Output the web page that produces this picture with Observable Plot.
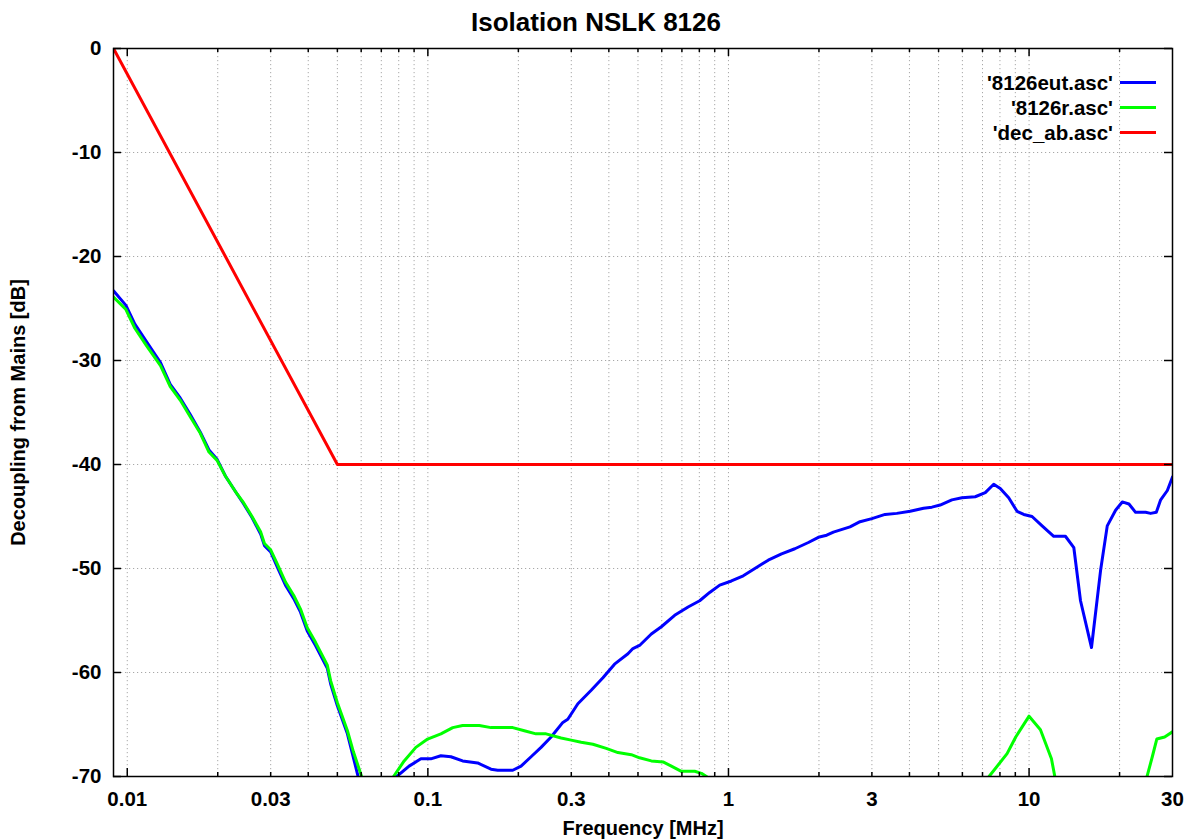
<!DOCTYPE html>
<html><head><meta charset="utf-8">
<script src="https://cdn.jsdelivr.net/npm/d3@7"></script>
<script src="https://cdn.jsdelivr.net/npm/@observablehq/plot@0.6"></script>
<style>
body{margin:0;background:#fff;font-family:"Liberation Sans",Arial,Helvetica,sans-serif;}
#wrap{position:relative;width:1192px;height:840px;overflow:hidden;background:#fff;}
#title{position:absolute;left:0;top:0;width:1192px;height:44px;line-height:44px;text-align:center;font-weight:bold;font-size:26px;color:#000;z-index:2;}
#chart{position:absolute;left:0;top:20px;z-index:1;}
#legend{position:absolute;right:36px;top:70px;font-weight:bold;font-size:20.5px;color:#000;z-index:3;}
#legend .row{display:flex;align-items:center;justify-content:flex-end;height:25px;}
#legend .sw{display:inline-block;width:36px;height:3px;margin-left:7px;}
</style></head>
<body>
<div id="wrap">
  <div id="chart"></div>
  <div id="title"></div>
  <div id="legend"></div>
</div>
<script>
// ---- data ----
const chartTitle = "Isolation NSLK 8126";
const xLabel = "Frequency [MHz]";
const yLabel = "Decoupling from Mains [dB]";
const seriesNames = ["'8126eut.asc'", "'8126r.asc'", "'dec_ab.asc'"];
const seriesColors = ["#0000ff", "#00ff00", "#ff0000"];

const xTickValues = [0.01, 0.03, 0.1, 0.3, 1, 3, 10, 30];
const xTickLabels = ["0.01", "0.03", "0.1", "0.3", "1", "3", "10", "30"];
const yTickValues = [-70, -60, -50, -40, -30, -20, -10, 0];
const yTickLabels = ["-70", "-60", "-50", "-40", "-30", "-20", "-10", "0"];

// '8126eut.asc' (null = off-scale gap)
const eutFreq = [0.009,0.0099,0.0106,0.0116,0.0129,0.0139,0.0150,0.0162,0.0175,0.0187,0.0199,0.0212,0.0229,0.0244,0.026,0.0278,0.0286,0.030,0.0316,0.0336,0.0358,0.0377,0.0397,0.0423,0.0463,0.0475,0.050,0.054,0.0561,0.0586,
  null,
  0.0788,0.0866,0.0948,0.1023,0.1105,0.1193,0.1305,0.1464,0.1622,0.1708,0.1916,0.2042,0.2205,0.238,0.257,0.2812,0.2921,0.3155,0.3494,0.3823,0.4178,0.463,0.481,0.506,0.5538,0.598,0.6622,0.734,0.802,0.866,0.9354,1.023,1.12,1.224,1.356,1.502,1.663,1.844,1.991,2.122,2.234,2.537,2.74,3.0,3.319,3.63,4.022,4.457,4.75,5.06,5.537,5.98,6.62,7.15,7.627,8.02,8.555,9.12,9.6,10.23,11.05,12.08,13.21,14.09,14.83,16.13,17.29,18.2,19.4,20.42,21.49,22.61,24.42,25.37,26.5,27.4,28.84,30];
const eutDb = [-23.3,-24.7,-26.5,-28.2,-30.2,-32.3,-33.6,-35.2,-36.9,-38.6,-39.5,-41.1,-42.6,-43.8,-45.1,-46.7,-47.8,-48.4,-49.9,-51.6,-52.9,-54.2,-56.0,-57.4,-59.6,-61.1,-63.2,-65.9,-67.8,-70,
  null,
  -70,-69.0,-68.3,-68.3,-68.0,-68.1,-68.5,-68.7,-69.3,-69.4,-69.4,-69.0,-68.1,-67.2,-66.2,-64.8,-64.5,-63.0,-61.7,-60.5,-59.2,-58.2,-57.7,-57.4,-56.3,-55.6,-54.5,-53.7,-53.1,-52.3,-51.6,-51.2,-50.7,-50.0,-49.2,-48.6,-48.1,-47.5,-47.0,-46.8,-46.5,-46.0,-45.5,-45.2,-44.8,-44.7,-44.5,-44.2,-44.1,-43.9,-43.4,-43.2,-43.1,-42.7,-41.9,-42.3,-43.2,-44.5,-44.8,-45.0,-45.9,-46.9,-46.9,-48.0,-53.1,-57.6,-50.2,-45.9,-44.4,-43.6,-43.8,-44.6,-44.6,-44.7,-44.6,-43.4,-42.5,-41.2];

// '8126r.asc'
const refFreq = [0.009,0.0099,0.0106,0.0116,0.0129,0.0139,0.0150,0.0162,0.0175,0.0187,0.0199,0.0212,0.0229,0.0244,0.026,0.0278,0.0286,0.030,0.0316,0.0336,0.0358,0.0377,0.0397,0.0423,0.0463,0.0475,0.050,0.054,0.0565,0.0602,
  null,
  0.0769,0.0834,0.0912,0.0998,0.1105,0.121,0.1305,0.1483,0.1622,0.1916,0.2094,0.229,0.2473,0.2775,0.2997,0.3236,0.354,0.392,0.4287,0.475,0.506,0.5538,0.6058,0.6457,0.697,0.772,0.813,0.845,
  null,
  7.36,8.45,9.03,10.0,10.91,11.87,12.18,
  null,
  24.68,25.7,26.6,28.25,30];
const refDb = [-23.9,-25.1,-26.9,-28.6,-30.5,-32.5,-33.8,-35.4,-37.0,-38.8,-39.6,-41.1,-42.6,-43.7,-45.0,-46.5,-47.6,-48.2,-49.6,-51.3,-52.6,-53.9,-55.7,-57.1,-59.3,-60.8,-62.9,-65.6,-67.6,-70,
  null,
  -70,-68.5,-67.2,-66.4,-65.9,-65.3,-65.1,-65.1,-65.3,-65.3,-65.6,-65.9,-65.9,-66.3,-66.5,-66.7,-66.9,-67.3,-67.7,-67.9,-68.2,-68.5,-68.6,-69.0,-69.5,-69.5,-69.7,-70,
  null,
  -70,-67.8,-66.2,-64.2,-65.5,-68.3,-70,
  null,
  -70,-68.1,-66.4,-66.2,-65.7];

// 'dec_ab.asc'
const limFreq = [0.009, 0.05, 30];
const limDb = [0, -40, -40];

// ---- build ----
document.getElementById("title").textContent = chartTitle;

const rows = [];
[[eutFreq, eutDb], [refFreq, refDb], [limFreq, limDb]].forEach(([fs, ds], i) => {
  fs.forEach((f, j) => rows.push({series: seriesNames[i], f, db: ds[j]}));
});

const W = 1192, H = 820, mL = 113, mR = 20, mT = 28, mB = 64;
const iW = W - mL - mR, iH = H - mT - mB;

const gridF = [];
for (let e = -3; e <= 1; e++) for (let m = 1; m <= 9; m++) {
  const v = +(m * Math.pow(10, e)).toPrecision(3);
  if (v > 0.009 && v < 30) gridF.push(v);
}
const decades = gridF.filter(v => Math.abs(Math.log10(v) - Math.round(Math.log10(v))) < 1e-9);
const minors = gridF.filter(v => !decades.includes(v));
const gridDb = yTickValues.filter(v => v > -70 && v < 0);

const gridStyle = {stroke: "#a8a8a8", strokeWidth: 1, strokeDasharray: "1.2,2.8"};
const tickStyle = {stroke: "#000", strokeWidth: 1.5};
const fontSz = 20.5;

const chart = Plot.plot({
  width: W, height: H,
  marginLeft: mL, marginRight: mR, marginTop: mT, marginBottom: mB,
  style: {fontFamily: '"Liberation Sans", Arial, Helvetica, sans-serif', fontSize: fontSz + "px", fontWeight: "bold", color: "#000", background: "transparent"},
  x: {type: "log", domain: [0.009, 30]},
  y: {domain: [-70, 0]},
  color: {domain: seriesNames, range: seriesColors},
  marks: [
    Plot.ruleX(gridF, {x: d => d, ...gridStyle}),
    Plot.ruleY(gridDb, {y: d => d, ...gridStyle}),
    Plot.line(rows, {x: "f", y: "db", z: "series", stroke: "series", strokeWidth: 3, clip: true, strokeLinejoin: "round"}),
    // inward ticks on all four sides
    Plot.tickY(yTickValues, {y: d => d, insetRight: iW - 8, ...tickStyle}),
    Plot.tickY(yTickValues, {y: d => d, insetLeft: iW - 8, ...tickStyle}),
    Plot.tickX(decades, {x: d => d, insetTop: iH - 8, ...tickStyle}),
    Plot.tickX(minors, {x: d => d, insetTop: iH - 4, ...tickStyle}),
    Plot.tickX(decades, {x: d => d, insetBottom: iH - 8, ...tickStyle}),
    Plot.tickX(minors, {x: d => d, insetBottom: iH - 4, ...tickStyle}),
    Plot.frame({stroke: "#000", strokeWidth: 1.5}),
    Plot.axisX({ticks: xTickValues, tickFormat: d => xTickLabels[xTickValues.indexOf(d)], tickSize: 0, tickPadding: 15, label: null, fontSize: fontSz, fontWeight: "bold"}),
    Plot.axisY({ticks: yTickValues, tickFormat: d => yTickLabels[yTickValues.indexOf(d)], tickSize: 0, tickPadding: 12, label: null, fontSize: fontSz, fontWeight: "bold"}),
    Plot.text([xLabel], {text: d => d, frameAnchor: "bottom", textAnchor: "middle", lineAnchor: "middle", dy: 52, fontSize: 20, fontWeight: "bold", fill: "#000"}),
    Plot.text([yLabel], {text: d => d, frameAnchor: "left", textAnchor: "middle", lineAnchor: "middle", rotate: -90, dx: -95, fontSize: 20, fontWeight: "bold", fill: "#000"})
  ]
});
document.getElementById("chart").appendChild(chart);

const legend = document.getElementById("legend");
seriesNames.forEach((n, i) => {
  const row = document.createElement("div");
  row.className = "row";
  const t = document.createElement("span");
  t.textContent = n;
  const sw = document.createElement("span");
  sw.className = "sw";
  sw.style.background = seriesColors[i];
  row.appendChild(t); row.appendChild(sw);
  legend.appendChild(row);
});
</script>
</body></html>
